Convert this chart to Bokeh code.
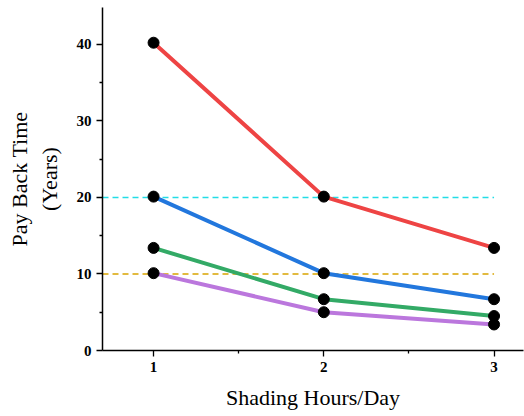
from bokeh.plotting import figure
from bokeh.models import FixedTicker, Range1d
from bokeh.embed import file_html
from bokeh.resources import INLINE

shading_hours = [1, 2, 3]
series_red = [40.2, 20.1, 13.4]
series_blue = [20.1, 10.1, 6.7]
series_green = [13.4, 6.7, 4.5]
series_purple = [10.1, 5.0, 3.4]
threshold_high = 20
threshold_low = 10
x_ticks = [1, 2, 3]
x_minor = [1.5, 2.5]
y_ticks = [0, 10, 20, 30, 40]
y_minor = [5, 15, 25, 35]

x_start, x_end = 0.7, 3.173
p = figure(width=524, height=416, output_backend="svg", toolbar_location=None,
           x_range=Range1d(x_start, x_end), y_range=Range1d(0, 44.8),
           min_border_left=102, min_border_right=1, min_border_top=7, min_border_bottom=66)
p.outline_line_color = None
p.grid.visible = False
p.background_fill_color = "white"
p.border_fill_color = "white"

# threshold dashed lines
p.segment(x0=[x_start], x1=[max(shading_hours)], y0=[threshold_high], y1=[threshold_high],
          line_color="#22DDE6", line_width=1.5, line_dash="6 4")
p.segment(x0=[x_start], x1=[max(shading_hours)], y0=[threshold_low], y1=[threshold_low],
          line_color="#D9A400", line_width=1.5, line_dash="6 4")

colors = ["#EE4444", "#2277DD", "#33AA66", "#BB77DD"]
for ys, c in zip([series_purple, series_green, series_blue, series_red], colors[::-1]):
    p.line(shading_hours, ys, line_color=c, line_width=4)
for ys in [series_purple, series_green, series_blue, series_red]:
    p.scatter(shading_hours, ys, size=11, fill_color="black", line_color="black")

for ax in (p.xaxis[0], p.yaxis[0]):
    ax.axis_line_width = 1.5
    ax.axis_line_color = "black"
    ax.major_tick_line_color = "black"
    ax.minor_tick_line_color = "black"
    ax.major_tick_line_width = 1.3
    ax.minor_tick_line_width = 1.3
    ax.major_tick_out = 6
    ax.major_tick_in = 0
    ax.minor_tick_out = 3
    ax.minor_tick_in = 0
    ax.major_label_text_font = "Liberation Serif"
    ax.major_label_text_font_style = "bold"
    ax.major_label_text_font_size = "15px"
    ax.major_label_text_color = "black"
    ax.axis_label_text_font = "Liberation Serif"
    ax.axis_label_text_font_style = "normal"
    ax.axis_label_text_font_size = "22px"
    ax.axis_label_text_color = "black"

p.xaxis.ticker = FixedTicker(ticks=x_ticks, minor_ticks=x_minor)
p.yaxis.ticker = FixedTicker(ticks=y_ticks, minor_ticks=y_minor)
p.xaxis.axis_label = "Shading Hours/Day"
p.yaxis.axis_label = "Pay Back Time\n(Years)"
p.xaxis.major_label_standoff = 5
p.xaxis.axis_label_standoff = 10
p.yaxis.major_label_standoff = 5
p.yaxis.axis_label_standoff = 12

open("out.html", "w").write(file_html(p, INLINE))
